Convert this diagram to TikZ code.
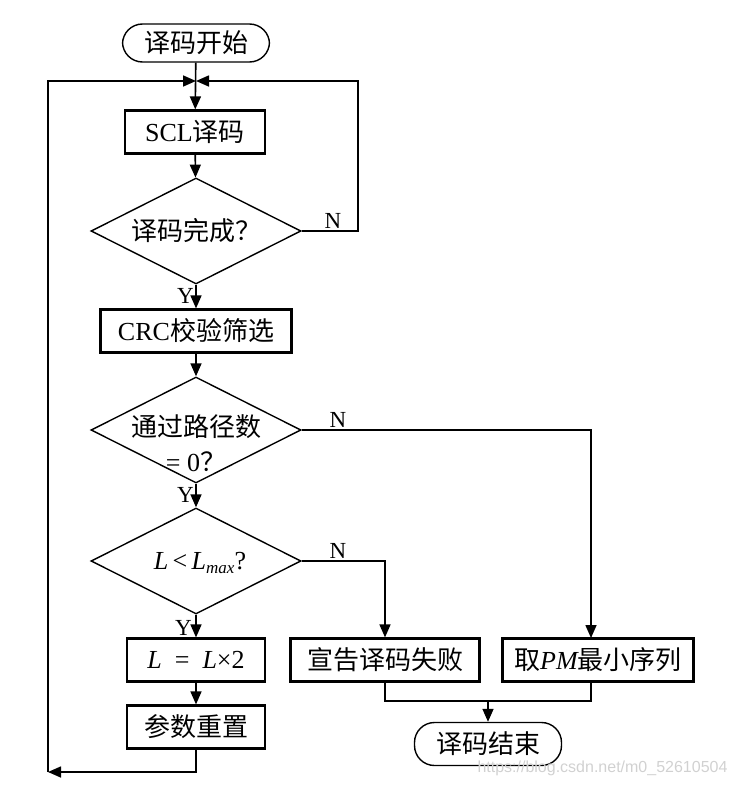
\documentclass[tikz,border=0pt]{standalone}
\usepackage{fontspec}
\setmainfont{Liberation Serif}
\newfontfamily\cjk{Noto Sans CJK SC}
\newfontfamily\wmfont{Liberation Sans}
\usetikzlibrary{shapes.geometric,arrows.meta}

\begin{document}
\begin{tikzpicture}[x=1pt,y=-1pt,
    txt/.style={inner sep=0pt, font=\fontsize{26}{31}\selectfont},
    box/.style={txt, draw, line width=2.2pt, minimum height=43pt},
    term/.style={txt, draw, line width=1.4pt, rounded corners=20pt, minimum width=147pt},
    cond/.style={diamond, draw, line width=1.4pt, inner sep=0pt, minimum width=210pt, minimum height=106pt},
    yn/.style={inner sep=1pt, font=\fontsize{23}{27}\selectfont},
    line/.style={line width=1.6pt},
    arr/.style={line, -{Triangle[length=13pt,width=11pt]}}]
  \useasboundingbox (0,0) rectangle (737,787);

  % start and decoding loop
  \node[term, minimum height=38pt] (start) at (196,43) {\cjk 译码开始};
  \node[box, minimum width=140pt] (scl) at (195,132) {SCL\cjk 译码};
  \node[cond] (done) at (196,231) {};
  \node[txt] (donetxt) at (196,231) {\cjk 译码完成？};
  \coordinate (join) at (196,81);
  \coordinate (rturn) at (358,81);
  \coordinate (lturn) at (48,772);

  % check and selection
  \node[box, minimum width=191pt] (crc) at (196,331) {CRC\cjk 校验筛选};
  \node[cond] (paths) at (196,430) {};
  \node[txt] (pathstxt) at (196,427) {\cjk 通过路径数};
  \node[txt] (pathsval) at (196,462) {= 0\cjk ？};
  \node[cond] (lcheck) at (196,561) {};
  \node[txt] (lchecktxt) at (200,563) {\textit{L}\,<\,\textit{L}\raisebox{-0.35ex}{\fontsize{17}{19}\selectfont\textit{max}}?};

  % bottom row
  \node[box, minimum width=138pt] (ldouble) at (196,660) {\textit{L}\ \ =\ \ \textit{L}×2};
  \node[box, minimum width=189pt] (fail) at (385,660) {\cjk 宣告译码失败};
  \node[box, minimum width=191pt] (pmmin) at (598,660) {\cjk 取{\rmfamily\itshape PM}最小序列};
  \node[box, minimum width=138pt] (reset) at (196,727) {\cjk 参数重置};
  \node[term, minimum height=43pt] (stop) at (488,744) {\cjk 译码结束};
  \coordinate (pmin) at (591,638);
  \coordinate (pmout) at (591,682);
  \coordinate (fj) at (488,701);

  % connectors
  \draw[arr] (start) -- (scl);
  \draw[arr] (scl) -- (done);
  \draw[arr] (done.east) -| (rturn) -- (join);
  \node[yn, anchor=south] (n1) at (333,230) {N};
  \draw[arr] (done) -- (crc);
  \node[yn, anchor=east] (y1) at (195,296) {Y};
  \draw[arr] (crc) -- (paths);
  \draw[arr] (paths.east) -| (pmin);
  \node[yn, anchor=south] (n2) at (338,429) {N};
  \draw[arr] (paths) -- (lcheck);
  \node[yn, anchor=east] (y2) at (195,495) {Y};
  \draw[arr] (lcheck.east) -| (fail.north);
  \node[yn, anchor=south] (n3) at (338,560) {N};
  \draw[arr] (lcheck) -- (ldouble);
  \node[yn, anchor=east] (y3) at (193,628) {Y};
  \draw[arr] (ldouble) -- (reset);
  \draw[arr] (reset.south) |- (lturn);
  \draw[arr] (lturn) |- (join);
  \draw[line] (fail.south) |- (fj) -| (pmout);
  \draw[arr] (fj) -- (stop);

  % watermark
  \node[anchor=east, text=black!18, font=\wmfont\fontsize{16}{18}\selectfont] (wm) at (731,768) {https://blog.csdn.net/m0\_52610504};
\end{tikzpicture}
\end{document}
